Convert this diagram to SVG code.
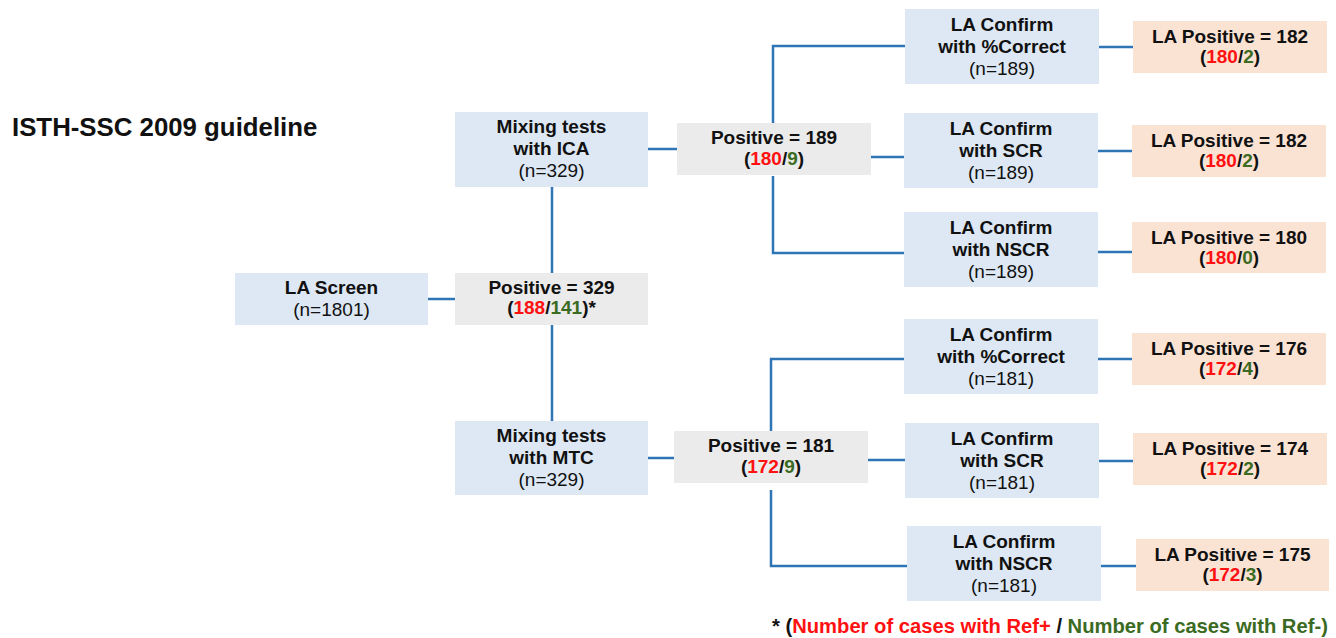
<svg xmlns="http://www.w3.org/2000/svg" width="1336" height="638" viewBox="0 0 1336 638">
<style>
text{font-family:"Liberation Sans",Arial,sans-serif;font-size:19px;fill:#111;text-anchor:middle}
.b{font-weight:bold}
.r{fill:#ff1111}
.g{fill:#3b6b22}
.blue{fill:#dde8f4}
.gray{fill:#ebebeb}
.peach{fill:#fbe3d4}
.c path{fill:none;stroke:#2e75b6;stroke-width:2.5}
</style>
<rect width="1336" height="638" fill="#ffffff"/>
<text x="12" y="136" class="b" style="text-anchor:start;font-size:25.8px">ISTH-SSC 2009 guideline</text>
<g class="c" id="connectors">
<path d="M428 299H455"/>
<path d="M552 273V187"/>
<path d="M552 325V421"/>
<path d="M648 149H677"/>
<path d="M773 123V46H905"/>
<path d="M773 176V253H904"/>
<path d="M871 157H905"/>
<path d="M1099 47H1133"/>
<path d="M1098 151H1132"/>
<path d="M1098 252H1132"/>
<path d="M648 458H674"/>
<path d="M771 431V359H904"/>
<path d="M771 490V566H907"/>
<path d="M868 460H905"/>
<path d="M1098 359H1132"/>
<path d="M1099 461H1133"/>
<path d="M1101 566H1136"/>
</g>
<g id="la-screen"><rect x="235" y="273" width="193" height="52" class="blue"/>
<text x="331.5" y="294" class="b">LA Screen</text><text x="331.5" y="316">(n=1801)</text></g>
<g id="pos329"><rect x="455" y="273" width="193" height="52" class="gray"/>
<text x="551.5" y="294" class="b">Positive = 329</text><text x="551.5" y="314" class="b">(<tspan class="r">188</tspan>/<tspan class="g">141</tspan>)*</text></g>
<g id="mix-ica"><rect x="455" y="112" width="193" height="75" class="blue"/>
<text x="551.5" y="133" class="b">Mixing tests</text><text x="551.5" y="155" class="b">with ICA</text><text x="551.5" y="177">(n=329)</text></g>
<g id="mix-mtc"><rect x="455" y="421" width="193" height="74" class="blue"/>
<text x="551.5" y="442" class="b">Mixing tests</text><text x="551.5" y="464" class="b">with MTC</text><text x="551.5" y="486">(n=329)</text></g>
<g id="pos189"><rect x="677" y="123" width="194" height="52" class="gray"/>
<text x="774" y="144" class="b">Positive = 189</text><text x="774" y="165" class="b">(<tspan class="r">180</tspan>/<tspan class="g">9</tspan>)</text></g>
<g id="pos181"><rect x="674" y="431" width="194" height="52" class="gray"/>
<text x="771" y="452" class="b">Positive = 181</text><text x="771" y="473" class="b">(<tspan class="r">172</tspan>/<tspan class="g">9</tspan>)</text></g>
<g id="ica-pc"><rect x="905" y="9" width="194" height="75" class="blue"/>
<text x="1002" y="31" class="b">LA Confirm</text><text x="1002" y="53" class="b">with %Correct</text><text x="1002" y="75">(n=189)</text></g>
<g id="ica-scr"><rect x="904" y="113" width="194" height="75" class="blue"/>
<text x="1001" y="135" class="b">LA Confirm</text><text x="1001" y="157" class="b">with SCR</text><text x="1001" y="179">(n=189)</text></g>
<g id="ica-nscr"><rect x="904" y="212" width="194" height="75" class="blue"/>
<text x="1001" y="234" class="b">LA Confirm</text><text x="1001" y="256" class="b">with NSCR</text><text x="1001" y="278">(n=189)</text></g>
<g id="ica-pc-res"><rect x="1133" y="21" width="194" height="52" class="peach"/>
<text x="1230" y="43" class="b">LA Positive = 182</text><text x="1230" y="63" class="b">(<tspan class="r">180</tspan>/<tspan class="g">2</tspan>)</text></g>
<g id="ica-scr-res"><rect x="1132" y="125" width="194" height="52" class="peach"/>
<text x="1229" y="147" class="b">LA Positive = 182</text><text x="1229" y="167" class="b">(<tspan class="r">180</tspan>/<tspan class="g">2</tspan>)</text></g>
<g id="ica-nscr-res"><rect x="1132" y="222" width="194" height="51" class="peach"/>
<text x="1229" y="244" class="b">LA Positive = 180</text><text x="1229" y="264" class="b">(<tspan class="r">180</tspan>/<tspan class="g">0</tspan>)</text></g>
<g id="mtc-pc"><rect x="904" y="319" width="194" height="75" class="blue"/>
<text x="1001" y="341" class="b">LA Confirm</text><text x="1001" y="363" class="b">with %Correct</text><text x="1001" y="385">(n=181)</text></g>
<g id="mtc-scr"><rect x="905" y="423" width="194" height="75" class="blue"/>
<text x="1002" y="445" class="b">LA Confirm</text><text x="1002" y="467" class="b">with SCR</text><text x="1002" y="489">(n=181)</text></g>
<g id="mtc-nscr"><rect x="907" y="526" width="194" height="75" class="blue"/>
<text x="1004" y="548" class="b">LA Confirm</text><text x="1004" y="570" class="b">with NSCR</text><text x="1004" y="592">(n=181)</text></g>
<g id="mtc-pc-res"><rect x="1132" y="333" width="194" height="52" class="peach"/>
<text x="1229" y="355" class="b">LA Positive = 176</text><text x="1229" y="375" class="b">(<tspan class="r">172</tspan>/<tspan class="g">4</tspan>)</text></g>
<g id="mtc-scr-res"><rect x="1133" y="433" width="194" height="52" class="peach"/>
<text x="1230" y="455" class="b">LA Positive = 174</text><text x="1230" y="475" class="b">(<tspan class="r">172</tspan>/<tspan class="g">2</tspan>)</text></g>
<g id="mtc-nscr-res"><rect x="1136" y="539" width="193" height="52" class="peach"/>
<text x="1232.5" y="561" class="b">LA Positive = 175</text><text x="1232.5" y="581" class="b">(<tspan class="r">172</tspan>/<tspan class="g">3</tspan>)</text></g>
<text x="772" y="633" class="b" style="text-anchor:start;font-size:20.2px">* (<tspan class="r">Number of cases with Ref+</tspan> / <tspan class="g">Number of cases with Ref-)</tspan></text>
</svg>
